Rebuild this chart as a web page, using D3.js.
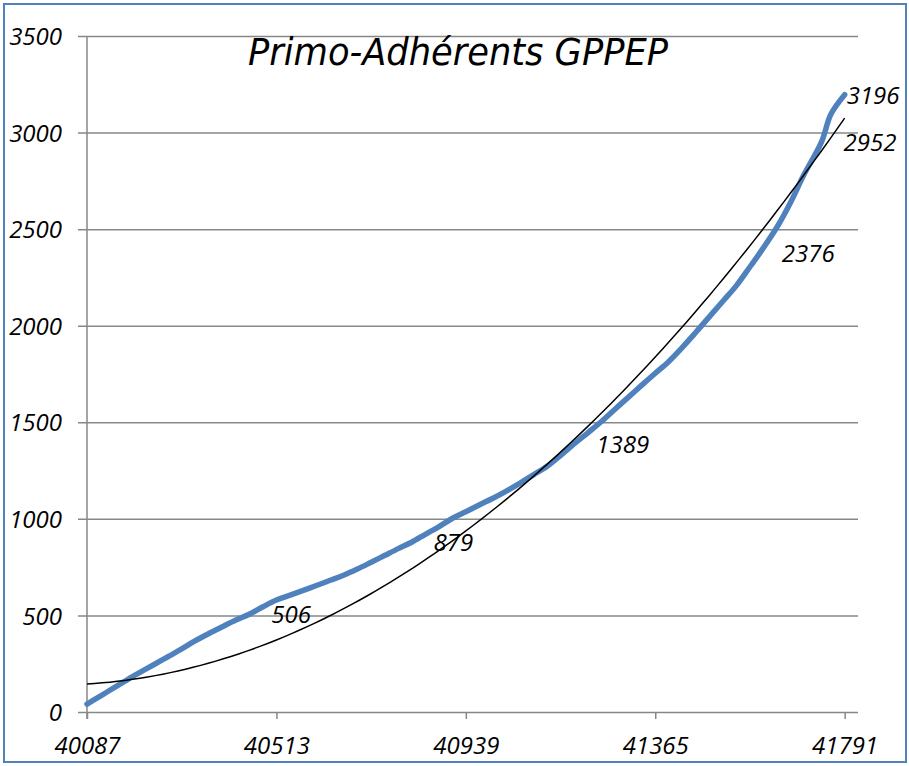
<!DOCTYPE html>
<html>
<head>
<meta charset="utf-8">
<script src="https://cdn.jsdelivr.net/npm/d3@7"></script>
<style>
  body { margin: 0; background: #fff; }
  text { font-family: "Open Sans", "Liberation Sans", sans-serif; font-style: italic; }
</style>
</head>
<body>
<script>
// Data (Excel date serials, month by month)
var title = "Primo-Adhérents GPPEP";
var dates = [40087, 40118, 40148, 40179, 40210, 40238, 40269, 40299, 40330, 40360, 40391, 40422,
  40452, 40483, 40513, 40544, 40575, 40603, 40634, 40664, 40695, 40725, 40756, 40787,
  40817, 40848, 40878, 40909, 40940, 40969, 41000, 41030, 41061, 41091, 41122, 41153,
  41183, 41214, 41244, 41275, 41306, 41334, 41365, 41395, 41426, 41456, 41487, 41518,
  41548, 41579, 41600, 41640, 41671, 41699, 41739, 41760, 41791];
var members = [41, 84, 126, 169, 210, 246, 286, 325, 368, 405, 441, 476,
  506, 545, 580, 605, 631, 655, 682, 708, 740, 774, 810, 846,
  879, 920, 959, 1003, 1038, 1072, 1107, 1144, 1185, 1228, 1272, 1330,
  1389, 1447, 1504, 1569, 1633, 1691, 1754, 1814, 1888, 1965, 2047, 2129,
  2209, 2308, 2376, 2515, 2646, 2780, 2952, 3095, 3196];
var labelled = [506, 879, 1389, 2376, 2952, 3196];

// Polynomial trendline (order 2) at three dates
var trendDates = [40087, 40977, 41791];
var trendValues = [145, 1004, 3075];

var xTicks = [40087, 40513, 40939, 41365, 41791];
var yTicks = [0, 500, 1000, 1500, 2000, 2500, 3000, 3500];

// Dimensions
var width = 909;
var height = 766;
var plotLeft = 87, plotRight = 858, plotTop = 36, plotBottom = 712;

var svg = d3
  .select("body")
  .append("svg")
  .attr("width", width)
  .attr("height", height);

// Frame
svg.append("rect")
  .attr("x", 4).attr("y", 4)
  .attr("width", 902).attr("height", 758)
  .attr("fill", "#fff")
  .attr("stroke", "#4f81bd")
  .attr("stroke-width", 2);

// Scales
var x = d3.scaleLinear().domain([40087, 41821]).range([plotLeft, plotRight]);
var y = d3.scaleLinear().domain([0, 3500]).range([plotBottom, plotTop]);

// Horizontal grid + y labels
var yAxis = d3.axisLeft(y)
  .tickValues(yTicks)
  .tickSize(-(plotRight - plotLeft))
  .tickFormat(d3.format("d"));

var gy = svg.append("g")
  .attr("transform", "translate(" + plotLeft + ",0)")
  .call(yAxis);
gy.select(".domain").remove();
gy.selectAll(".tick line")
  .attr("x1", -9)
  .attr("stroke", "#878787")
  .attr("stroke-width", 1.5);
gy.selectAll(".tick text")
  .attr("x", -25)
  .attr("dy", "0.36em")
  .style("font-size", "24px")
  .attr("fill", "#000");

// Vertical axis line
svg.append("line")
  .attr("x1", plotLeft).attr("x2", plotLeft)
  .attr("y1", plotTop).attr("y2", plotBottom + 7)
  .attr("stroke", "#878787")
  .attr("stroke-width", 1.5);

// X axis
var xAxis = d3.axisBottom(x)
  .tickValues(xTicks)
  .tickSize(7)
  .tickSizeOuter(0)
  .tickFormat(d3.format("d"));

var gx = svg.append("g")
  .attr("transform", "translate(0," + plotBottom + ")")
  .call(xAxis);
gx.select(".domain").remove();
gx.selectAll(".tick line")
  .attr("stroke", "#878787")
  .attr("stroke-width", 1.5);
gx.selectAll(".tick text")
  .attr("y", 25)
  .attr("dy", "0.71em")
  .style("font-size", "24px")
  .attr("fill", "#000");

var points = dates.map(function (d, i) {
  return { date: d, value: members[i] };
});

// Quadratic through the three trendline readings
function trendAt(d) {
  var v = 0;
  for (var i = 0; i < 3; i++) {
    var term = trendValues[i];
    for (var j = 0; j < 3; j++) {
      if (j !== i) term *= (d - trendDates[j]) / (trendDates[i] - trendDates[j]);
    }
    v += term;
  }
  return v;
}
var trend = d3.range(0, 101).map(function (k) {
  var d = 40087 + (41791 - 40087) * k / 100;
  return { date: d, value: trendAt(d) };
});

// Series line
var line = d3.line()
  .x(function (d) { return x(d.date); })
  .y(function (d) { return y(d.value); })
  .curve(d3.curveCatmullRom.alpha(0.5));

svg.append("path")
  .datum(points)
  .attr("d", line)
  .attr("fill", "none")
  .attr("stroke", "#4f81bd")
  .attr("stroke-width", 5.5)
  .attr("stroke-linecap", "round")
  .attr("stroke-linejoin", "round");

svg.append("path")
  .datum(trend)
  .attr("d", line.curve(d3.curveLinear))
  .attr("fill", "none")
  .attr("stroke", "#000")
  .attr("stroke-width", 1.5);

// Data labels
svg.selectAll(".lbl")
  .data(points.filter(function (p) { return labelled.indexOf(p.value) >= 0; }))
  .enter()
  .append("text")
  .attr("class", "lbl")
  .attr("x", function (d) { return x(d.date) + (d.value === 3196 ? 2 : 22); })
  .attr("y", function (d) { return y(d.value) + 9; })
  .style("font-size", "24px")
  .text(function (d) { return d.value; });

// Title
svg.append("text")
  .attr("x", 248)
  .attr("y", 65)
  .attr("textLength", 420)
  .attr("lengthAdjust", "spacingAndGlyphs")
  .style("font-family", "'Comic Sans MS', 'DejaVu Sans', sans-serif")
  .style("font-size", "37px")
  .text(title);
</script>
</body>
</html>
